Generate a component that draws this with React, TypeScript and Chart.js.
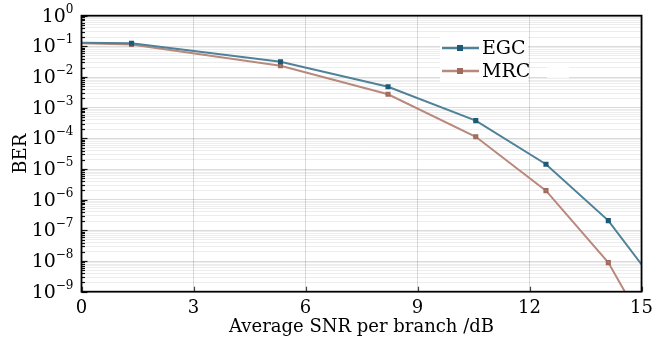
import { useEffect, useRef } from 'react';
import { Chart, registerables } from 'chart.js';

Chart.register(...registerables);

// ---- data ----
const seriesNames = ['EGC', 'MRC'];
const snrEGC = [0, 1.34, 5.33, 8.21, 10.56, 12.44, 14.11, 15];
const berEGC = [0.132, 0.126, 0.0316, 4.84e-3, 3.8e-4, 1.43e-5, 2.08e-7, 7.7e-9];
const snrMRC = [0, 1.34, 5.33, 8.21, 10.56, 12.44, 14.11, 15];
const berMRC = [0.127, 0.115, 0.0234, 2.74e-3, 1.13e-4, 1.97e-6, 8.9e-9, 1.1e-10];
const xTickValues = [0, 3, 6, 9, 12, 15];
const yDecadeExps = [-9, -8, -7, -6, -5, -4, -3, -2, -1, 0];

const FONT = "'DejaVu Serif', 'Liberation Serif', serif";
const colorEGC = '#4f8299';
const markEGC = '#1d5a78';
const colorMRC = '#b8897c';
const markMRC = '#a06a5c';

const supMap: Record<string, string> = {
  '-': '\u2212', '0': '0', '1': '1', '2': '2', '3': '3', '4': '4', '5': '5', '6': '6', '7': '7', '8': '8', '9': '9',
};

const isMajor = (v: number) => {
  const l = Math.log10(v);
  return Math.abs(l - Math.round(l)) < 1e-6;
};

const decorPlugin = {
  id: 'decor',
  afterDraw(chart: any) {
    const { ctx, chartArea: a, scales } = chart;
    const ys = scales.y;
    const xs = scales.x;
    ctx.save();
    // inner ticks on y
    ctx.strokeStyle = '#111';
    ctx.lineWidth = 1.2;
    ys.ticks.forEach((t: any) => {
      const y = Math.round(ys.getPixelForValue(t.value)) + 0.5;
      const len = isMajor(t.value) ? 6 : 3.5;
      ctx.beginPath();
      ctx.moveTo(a.left, y);
      ctx.lineTo(a.left + len, y);
      ctx.stroke();
    });
    // inner ticks on x
    ctx.strokeStyle = '#444';
    xTickValues.forEach((v) => {
      const x = Math.round(xs.getPixelForValue(v)) + 0.5;
      ctx.beginPath();
      ctx.moveTo(x, a.bottom);
      ctx.lineTo(x, a.bottom - 5);
      ctx.stroke();
    });
    // frame
    ctx.strokeStyle = '#000';
    ctx.lineWidth = 1.8;
    ctx.strokeRect(a.left, a.top, a.right - a.left, a.bottom - a.top);

    // y tick labels 10^n
    ctx.fillStyle = '#000';
    ctx.textBaseline = 'middle';
    yDecadeExps.forEach((e) => {
      const y = ys.getPixelForValue(Math.pow(10, e));
      const sup = String(e).split('').map((c) => supMap[c]).join('');
      ctx.font = `12px ${FONT}`;
      const sw = ctx.measureText(sup).width;
      const right = a.left - 8;
      ctx.textAlign = 'left';
      ctx.fillText(sup, right - sw, y - 6);
      ctx.font = `19px ${FONT}`;
      ctx.textAlign = 'right';
      ctx.fillText('10', right - sw, y + 1);
    });

    // legend
    ctx.fillStyle = 'rgba(255,255,255,0.85)';
    ctx.fillRect(440, 37, 88, 45);
    ctx.fillRect(547, 64, 22, 14);
    const items = [
      { name: seriesNames[0], color: colorEGC, mark: markEGC, y: 48 },
      { name: seriesNames[1], color: colorMRC, mark: markMRC, y: 71 },
    ];
    items.forEach((it) => {
      ctx.strokeStyle = it.color;
      ctx.lineWidth = 2.5;
      ctx.beginPath();
      ctx.moveTo(442, it.y);
      ctx.lineTo(479, it.y);
      ctx.stroke();
      ctx.fillStyle = it.mark;
      ctx.fillRect(457, it.y - 3, 6, 6);
      ctx.fillStyle = '#000';
      ctx.font = `19px ${FONT}`;
      ctx.textAlign = 'left';
      ctx.textBaseline = 'middle';
      ctx.fillText(it.name, 482, it.y + 1);
    });
    ctx.restore();
  },
};

export default function App() {
  const ref = useRef<HTMLCanvasElement | null>(null);
  useEffect(() => {
    if (!ref.current) return;
    const mk = (xs: number[], ys: number[]) => xs.map((x, i) => ({ x, y: ys[i] }));
    const radii = (n: number) => Array.from({ length: n }, (_, i) => (i === 0 || i === n - 1 ? 0 : 2.2));
    const chart = new Chart(ref.current, {
      type: 'line',
      data: {
        datasets: [
          {
            label: seriesNames[0],
            data: mk(snrEGC, berEGC),
            borderColor: colorEGC,
            backgroundColor: markEGC,
            borderWidth: 2,
            pointStyle: 'rect',
            pointRadius: radii(snrEGC.length),
            pointBorderColor: markEGC,
            pointBackgroundColor: markEGC,
            tension: 0,
          },
          {
            label: seriesNames[1],
            data: mk(snrMRC, berMRC),
            borderColor: colorMRC,
            backgroundColor: markMRC,
            borderWidth: 2,
            pointStyle: 'rect',
            pointRadius: radii(snrMRC.length),
            pointBorderColor: markMRC,
            pointBackgroundColor: colorMRC,
            tension: 0,
          },
        ],
      },
      options: {
        responsive: false,
        animation: false,
        layout: { padding: { top: 15.7, right: 14, left: 0, bottom: 0 } },
        plugins: { legend: { display: false }, tooltip: { enabled: false } },
        scales: {
          x: {
            type: 'linear',
            min: 0,
            max: 15,
            afterBuildTicks: (s: any) => {
              s.ticks = xTickValues.map((v) => ({ value: v }));
            },
            afterFit: (s: any) => {
              s.height = 54.3;
            },
            ticks: { color: '#000', font: { family: FONT, size: 18 }, padding: 6, maxRotation: 0 },
            grid: { color: 'rgba(0,0,0,0.14)', drawTicks: false },
            border: { display: false },
            title: {
              display: true,
              text: 'Average SNR per branch /dB',
              color: '#000',
              font: { family: FONT, size: 18 },
              padding: { top: 0, bottom: 8 },
            },
          },
          y: {
            type: 'logarithmic',
            min: 1e-9,
            max: 1,
            afterBuildTicks: (s: any) => {
              const t: any[] = [];
              for (const e of yDecadeExps) {
                if (e === 0) { t.push({ value: 1 }); break; }
                for (let m = 1; m <= 9; m++) t.push({ value: m * Math.pow(10, e) });
              }
              s.ticks = t;
            },
            afterFit: (s: any) => {
              s.width = 81.5;
            },
            ticks: { display: false },
            grid: {
              drawTicks: false,
              color: (c: any) => (c.tick && isMajor(c.tick.value) ? 'rgba(0,0,0,0.14)' : 'rgba(0,0,0,0.07)'),
            },
            border: { display: false },
            title: {
              display: true,
              text: 'BER',
              color: '#000',
              font: { family: FONT, size: 18 },
              padding: { top: 11, bottom: 0 },
            },
          },
        },
      },
      plugins: [decorPlugin],
    });
    return () => chart.destroy();
  }, []);
  return (
    <div style={{ position: 'fixed', left: 0, top: 0, width: 659, height: 346, background: '#fff' }}>
      <canvas ref={ref} width={659} height={346} />
    </div>
  );
}
